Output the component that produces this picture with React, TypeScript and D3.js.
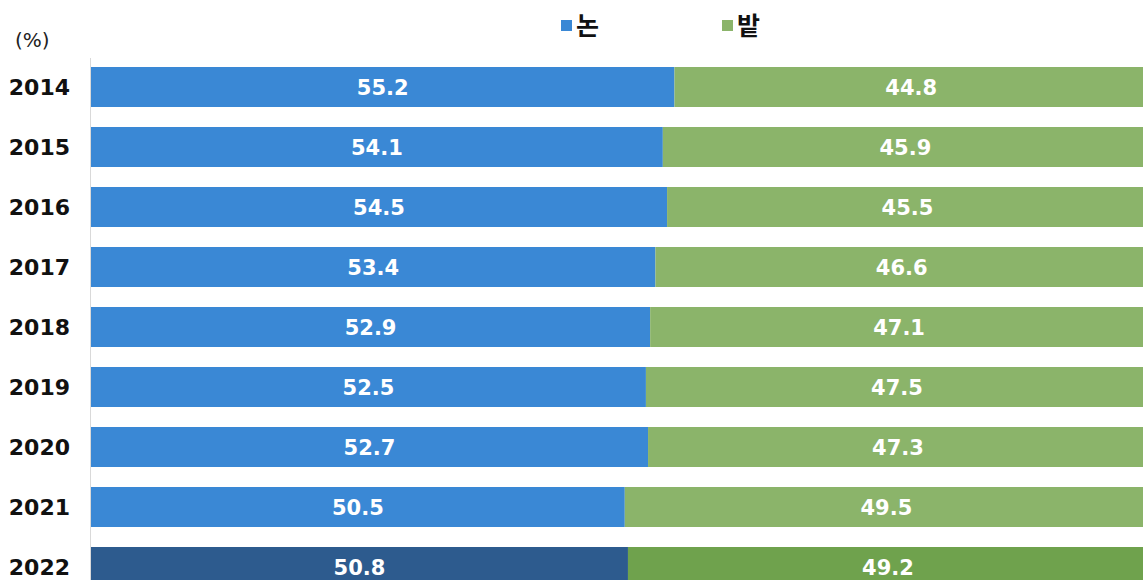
import React from "react";
import * as d3 from "d3";

const years = ["2014", "2015", "2016", "2017", "2018", "2019", "2020", "2021", "2022"];
const paddy = [55.2, 54.1, 54.5, 53.4, 52.9, 52.5, 52.7, 50.5, 50.8];
const field = [44.8, 45.9, 45.5, 46.6, 47.1, 47.5, 47.3, 49.5, 49.2];
const seriesNames = ["논", "밭"];

const W = 1143;
const H = 580;
const left = 91;
const right = 1148;
const font = "'DejaVu Sans', 'Noto Sans CJK KR', sans-serif";
const krFont = "'Noto Sans CJK KR', sans-serif";

export default function App() {
  const x = d3.scaleLinear().domain([0, 100]).range([left, right]);
  const y = d3
    .scaleBand()
    .domain(years)
    .range([57, 597])
    .paddingInner(1 / 3)
    .paddingOuter(1 / 6);

  const colors = (i: number, last: boolean) =>
    i === 0 ? (last ? "#2d5b8e" : "#3a88d5") : last ? "#6fa24d" : "#8bb46a";

  return (
    <svg
      width={W}
      height={H}
      style={{ position: "absolute", left: 0, top: 0, background: "#fff" }}
      fontFamily={font}
    >
      <text x={15} y={47} fontSize={20} fill="#222">(%)</text>
      {/* legend */}
      <rect x={561} y={20} width={11} height={11} fill="#3a88d5" />
      <text x={576} y={35} fontSize={25} fontWeight={700} fill="#111" fontFamily={krFont}>{seriesNames[0]}</text>
      <rect x={722} y={20} width={11} height={11} fill="#8bb46a" />
      <text x={737} y={35} fontSize={25} fontWeight={700} fill="#111" fontFamily={krFont}>{seriesNames[1]}</text>

      <line x1={left - 0.5} x2={left - 0.5} y1={58} y2={H} stroke="#d9d9d9" strokeWidth={1} />

      {years.map((yr, i) => {
        const last = i === years.length - 1;
        const y0 = y(yr) as number;
        const bh = y.bandwidth();
        const cy = y0 + bh / 2;
        const p = paddy[i];
        const f = field[i];
        return (
          <g key={yr}>
            <text x={70} y={cy} dy="0.36em" textAnchor="end" fontSize={22} fontWeight={700} fill="#111">
              {yr}
            </text>
            <rect x={x(0)} y={y0} width={x(p) - x(0)} height={bh} fill={colors(0, last)} />
            <rect x={x(p)} y={y0} width={x(p + f) - x(p)} height={bh} fill={colors(1, last)} />
            <text x={(x(0) + x(p)) / 2} y={cy} dy="0.36em" textAnchor="middle" fontSize={21} fontWeight={700} fill="#fff">
              {p.toFixed(1)}
            </text>
            <text x={(x(p) + x(p + f)) / 2} y={cy} dy="0.36em" textAnchor="middle" fontSize={21} fontWeight={700} fill="#fff">
              {f.toFixed(1)}
            </text>
          </g>
        );
      })}
    </svg>
  );
}
